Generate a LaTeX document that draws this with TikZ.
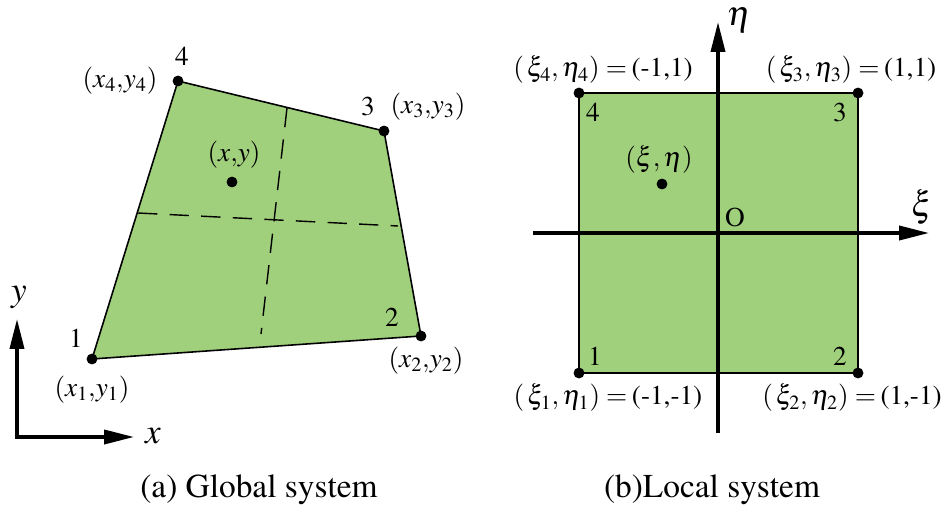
\documentclass[tikz,border=0pt]{standalone}
\usepackage[T1]{fontenc}
\usepackage{mathptmx}
\usetikzlibrary{arrows.meta,positioning,calc}
\definecolor{elemgreen}{RGB}{160,208,124}

\begin{document}
\begin{tikzpicture}[
        x=0.02cm, y=-0.02cm,
        >={Triangle[length=17pt,width=8pt]},
        line join=miter,
        edge/.style={line width=0.9pt},
        axis/.style={line width=1.9pt},
        midline/.style={line width=0.8pt, dash pattern=on 11pt off 7pt},
        dot/.style={circle, fill, inner sep=0pt, minimum size=6.2pt},
        lbl/.style={font=\fontsize{15.5}{18}\selectfont, inner sep=0pt},
        axlbl/.style={font=\fontsize{20}{22}\selectfont, inner sep=0pt},
        captiontext/.style={font=\fontsize{19}{22}\selectfont, inner sep=0pt},
    ]
    \useasboundingbox (0,0) rectangle (943,513);

    % Global element corners
    \coordinate (n1) at (92,359);
    \coordinate (n2) at (421,336);
    \coordinate (n3) at (384,131);
    \coordinate (n4) at (178,81);

    \fill[elemgreen] (n1) -- (n2) -- (n3) -- (n4) -- cycle;

    % Dashed centre lines
    \coordinate (hl) at (138,213);
    \coordinate (hr) at (398,226);
    \coordinate (vt) at (287,108);
    \coordinate (vb) at (261,334);
    \draw[midline] (hl) -- (hr);
    \draw[midline] (vt) -- (vb);

    \draw[edge] (n1) -- (n2) -- (n3) -- (n4) -- cycle;
    \foreach \n in {n1,n2,n3,n4} {
        \node[dot] (d\n) at (\n) {};
    }
    \node[dot] (pxy) at (232,182) {};

    % Global labels
    \node[lbl] (k1) at (76,338) {1};
    \node[lbl] (k2) at (392,317) {2};
    \node[lbl] (k3) at (368,106) {3};
    \node[lbl] (k4) at (182,56) {4};
    \node[lbl] (c1) at (92,390) {$(x_1{,}y_1)$};
    \node[lbl] (c2) at (426,361) {$(x_2{,}y_2)$};
    \node[lbl] (c3) at (428,107) {$(x_3{,}y_3)$};
    \node[lbl] (c4) at (120,81) {$(x_4{,}y_4)$};
    \node[lbl] (cxy) at (234,155) {$(x{,}y)$};

    % Global axes
    \coordinate (go) at (17,437);
    \coordinate (gx) at (134,437);
    \coordinate (gy) at (17,319);
    \draw[axis,<->] (gy) -- (go) -- (gx);
    \node[axlbl] (lx) at (153,436) {$x$};
    \node[axlbl] (ly) at (19,297) {$y$};

    % Local element corners
    \coordinate (m1) at (579,373);
    \coordinate (m2) at (858,373);
    \coordinate (m3) at (858,93);
    \coordinate (m4) at (579,93);

    \fill[elemgreen] (m1) -- (m2) -- (m3) -- (m4) -- cycle;
    \draw[edge] (m1) -- (m2) -- (m3) -- (m4) -- cycle;

    % Local axes
    \coordinate (lo) at (718,233);
    \coordinate (xs) at (533,233);
    \coordinate (xe) at (929,233);
    \coordinate (es) at (718,433);
    \coordinate (ee) at (718,22);
    \draw[axis,->] (xs) -- (xe);
    \draw[axis,->] (es) -- (ee);
    \node[axlbl] (lxi) at (922,207) {$\xi$};
    \node[axlbl] (leta) at (739,20) {$\eta$};
    \node[lbl] (lo0) at (735,217) {O};

    \foreach \n in {m1,m2,m3,m4} {
        \node[dot] (d\n) at (\n) {};
    }
    \node[dot] (pxe) at (662,184) {};

    % Local labels
    \node[lbl] (j1) at (595,356) {1};
    \node[lbl] (j2) at (840,356) {2};
    \node[lbl] (j3) at (840,112) {3};
    \node[lbl] (j4) at (593,112) {4};
    \node[lbl] (e1) at (608,398) {$(\,\xi_1,\eta_1)=$\,(-1,-1)};
    \node[lbl] (e2) at (852,398) {$(\,\xi_2,\eta_2)=$\,(1,-1)};
    \node[lbl] (e3) at (851,70) {$(\,\xi_3,\eta_3)=$\,(1,1)};
    \node[lbl] (e4) at (603,70) {$(\,\xi_4,\eta_4)=$\,(-1,1)};
    \node[lbl] (cxe) at (659,160) {$(\xi,\eta)$};

    % Captions
    \node[captiontext] (capa) at (259,490) {(a) Global system};
    \node[captiontext] (capb) at (712,490) {(b)Local system};
\end{tikzpicture}
\end{document}
